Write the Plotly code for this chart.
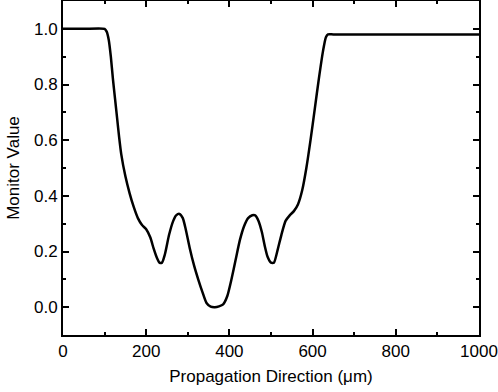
import plotly.graph_objects as go

x_um = [0, 50, 100, 105, 110, 115, 120, 125, 130, 135, 140, 150, 160, 170, 180, 190, 200, 210, 218, 225, 232, 238,
        245, 255, 265, 272, 280, 288, 295, 305, 315, 325, 335, 345, 355, 365, 375, 385, 395, 405, 415, 425, 435,
        445, 455, 462, 470, 478, 485, 492, 500, 507, 515, 525, 535, 545, 555, 565, 575, 585, 595, 605, 615, 625,
        632, 637, 650, 1000]
monitor = [1.0, 1.0, 1.0, 0.99, 0.96, 0.90, 0.82, 0.75, 0.68, 0.61, 0.55, 0.47, 0.41, 0.36, 0.32, 0.295, 0.28,
           0.25, 0.21, 0.18, 0.16, 0.16, 0.19, 0.26, 0.31, 0.33, 0.335, 0.32, 0.28, 0.21, 0.15, 0.10, 0.055, 0.015,
           0.002, 0.0, 0.003, 0.01, 0.04, 0.10, 0.17, 0.24, 0.29, 0.32, 0.33, 0.33, 0.31, 0.27, 0.22, 0.18, 0.16,
           0.16, 0.20, 0.26, 0.31, 0.33, 0.345, 0.37, 0.42, 0.50, 0.60, 0.71, 0.82, 0.92, 0.97, 0.98, 0.98, 0.98]

fig = go.Figure(go.Scatter(x=x_um, y=monitor, mode="lines",
                           line=dict(color="black", width=2.5, shape="spline", smoothing=0.6)))

font = dict(family="Liberation Sans, Arial, sans-serif", size=17, color="black")
axis_common = dict(showgrid=False, zeroline=False, showline=True, linecolor="black", linewidth=2,
                   mirror="ticks", ticks="inside", ticklen=6, tickwidth=2, tickcolor="black",
                   tickfont=font, automargin=False)
fig.update_xaxes(range=[0, 1000], tickvals=[0, 200, 400, 600, 800, 1000],
                 minor=dict(ticks="inside", ticklen=3, tickwidth=2, tickcolor="black", dtick=100, tick0=0),
                 title=dict(text="Propagation Direction (μm)", font=font, standoff=10), **axis_common)
fig.update_yaxes(range=[-0.1, 1.1], tickvals=[0.0, 0.2, 0.4, 0.6, 0.8, 1.0], tickformat=".1f",
                 minor=dict(ticks="inside", ticklen=3, tickwidth=2, tickcolor="black", dtick=0.1, tick0=0),
                 title=dict(text="Monitor Value", font=font, standoff=10), **axis_common)
fig.update_layout(width=498, height=392, margin=dict(l=63, r=19, t=1, b=57),
                  plot_bgcolor="white", paper_bgcolor="white", showlegend=False, font=font)
fig.write_html("out.html", config={"displayModeBar": False},
               post_script="document.body.style.margin='0';document.body.style.padding='0';document.body.style.overflow='hidden';")
